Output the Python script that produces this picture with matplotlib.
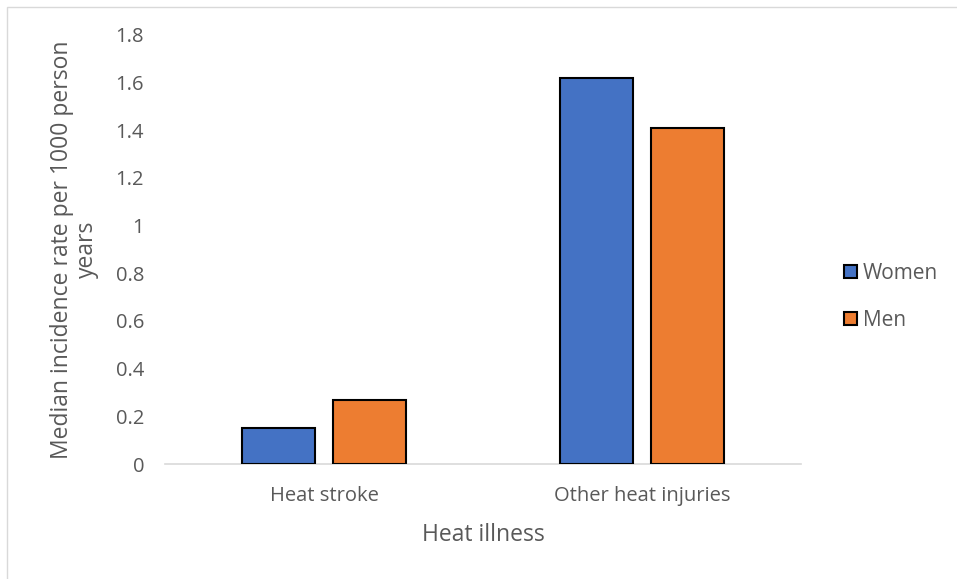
import numpy as np
import matplotlib.pyplot as plt
from matplotlib.patches import Rectangle

categories = ["Heat stroke", "Other heat injuries"]
women = [0.15, 1.62]
men = [0.27, 1.41]
series_names = ["Women", "Men"]
yticks = [0, 0.2, 0.4, 0.6, 0.8, 1, 1.2, 1.4, 1.6, 1.8]
ytick_labels = ["0", "0.2", "0.4", "0.6", "0.8", "1", "1.2", "1.4", "1.6", "1.8"]

BLUE = "#4472C4"
ORANGE = "#ED7D31"
TEXT = "#595959"

plt.rcParams["font.family"] = ["Open Sans", "DejaVu Sans"]

fig = plt.figure(figsize=(9.57, 5.79), dpi=100)
ax = fig.add_axes([0.1724, 0.1986, 0.6646, 0.741])

# thin frame around the chart area
fig.patches.append(Rectangle((7 / 957, -0.1), 1.2, 1 - 7 / 579 + 0.1,
                             transform=fig.transFigure, fill=False,
                             edgecolor="#D9D9D9", linewidth=1))

x = np.arange(len(categories))
w = 0.23
off = 0.1425
ax.bar(x - off, women, w, color=BLUE, edgecolor="black", linewidth=1.5,
       label=series_names[0], zorder=3)
ax.bar(x + off, men, w, color=ORANGE, edgecolor="black", linewidth=1.5,
       label=series_names[1], zorder=3)

ax.set_xlim(-0.5, 1.5)
ax.set_ylim(0, 1.8)
ax.set_yticks(yticks)
ax.set_yticklabels(ytick_labels)
ax.set_xticks(x)
ax.set_xticklabels(categories)

for s in ["top", "right", "left"]:
    ax.spines[s].set_visible(False)
ax.spines["bottom"].set_color("#D9D9D9")
ax.spines["bottom"].set_linewidth(1.2)
ax.tick_params(axis="both", length=0, colors=TEXT, labelsize=14.5)
ax.tick_params(axis="y", pad=15)
ax.tick_params(axis="x", pad=16)

ax.set_xlabel("Heat illness", color=TEXT, fontsize=16.5, labelpad=12)
ax.set_ylabel("Median incidence rate per 1000 person\nyears", color=TEXT,
              fontsize=16.5, labelpad=12, linespacing=1.05)

leg = ax.legend(loc="center left", bbox_to_anchor=(1.055, 0.39), frameon=False,
                handlelength=0.6, handleheight=0.6, handletextpad=0.3,
                labelspacing=1.25, fontsize=15, borderaxespad=0)
for t in leg.get_texts():
    t.set_color(TEXT)

fig.savefig("out.png", dpi=100, facecolor="white")
